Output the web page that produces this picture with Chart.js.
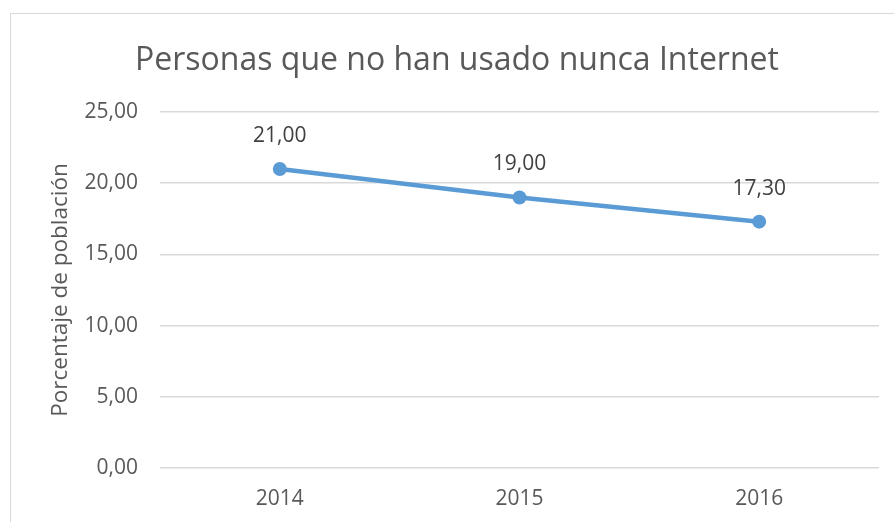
<!DOCTYPE html>
<html>
<head>
<meta charset="utf-8">
<script src="https://cdn.jsdelivr.net/npm/chart.js@4"></script>
<style>
  html, body { margin: 0; padding: 0; background: #ffffff; }
  #wrap { width: 894px; height: 522px; position: relative; }
</style>
</head>
<body>
<div id="wrap"><canvas id="c" width="894" height="522"></canvas></div>
<script>
const categories = ['2014', '2015', '2016'];
const values = [21.00, 19.00, 17.30];
const yTicks = [0, 5, 10, 15, 20, 25];
const chartTitle = 'Personas que no han usado nunca Internet';
const yTitle = 'Porcentaje de población';

const FONT = '"Open Sans", "Noto Sans", sans-serif';
const TEXT = '#595959';

const fmt = v => v.toFixed(2).replace('.', ',');

const borderPlugin = {
  id: 'frame',
  beforeDraw(chart) {
    const ctx = chart.ctx;
    ctx.save();
    ctx.strokeStyle = '#d9d9d9';
    ctx.lineWidth = 1;
    ctx.strokeRect(10.5, 13.5, 900, 600);
    ctx.restore();
  }
};

const labelPlugin = {
  id: 'dataLabels',
  afterDatasetsDraw(chart) {
    const ctx = chart.ctx;
    const meta = chart.getDatasetMeta(0);
    ctx.save();
    ctx.font = '21px ' + FONT;
    ctx.fillStyle = '#404040';
    ctx.textAlign = 'center';
    ctx.textBaseline = 'middle';
    meta.data.forEach((pt, i) => {
      ctx.fillText(fmt(chart.data.datasets[0].data[i]), pt.x, pt.y - 33);
    });
    ctx.restore();
  }
};

new Chart(document.getElementById('c'), {
  type: 'line',
  data: {
    labels: categories,
    datasets: [{
      data: values,
      borderColor: '#5b9bd5',
      backgroundColor: '#5b9bd5',
      borderWidth: 4.5,
      pointRadius: 7,
      pointHoverRadius: 7,
      pointBackgroundColor: '#5b9bd5',
      pointBorderWidth: 0,
      tension: 0
    }]
  },
  options: {
    responsive: false,
    animation: false,
    devicePixelRatio: 1,
    layout: { padding: { left: 35, right: 15, top: 0, bottom: 0 } },
    plugins: {
      legend: { display: false },
      tooltip: { enabled: false },
      title: {
        display: true,
        text: chartTitle,
        color: TEXT,
        font: { family: FONT, size: 32, weight: 'normal', lineHeight: 1.2 },
        padding: { top: 41.5, bottom: 32.1 }
      }
    },
    scales: {
      x: {
        offset: true,
        grid: { display: false, drawTicks: false },
        border: { display: false },
        ticks: { color: TEXT, font: { family: FONT, size: 21 }, padding: 18 },
        afterFit(scale) { scale.height = 54; }
      },
      y: {
        min: 0,
        max: 25,
        afterBuildTicks(scale) { scale.ticks = yTicks.map(v => ({ value: v })); },
        grid: { color: '#d9d9d9', lineWidth: 1.5, drawTicks: false },
        border: { display: false },
        ticks: {
          color: TEXT,
          font: { family: FONT, size: 21 },
          padding: 22,
          callback: v => fmt(v)
        },
        title: {
          display: true,
          text: yTitle,
          color: TEXT,
          font: { family: FONT, size: 22.5, weight: 'normal', lineHeight: 1.2 },
          padding: { top: 12, bottom: 0 }
        },
        afterFit(scale) { scale.width = 125; }
      }
    }
  },
  plugins: [borderPlugin, labelPlugin]
});
</script>
</body>
</html>
